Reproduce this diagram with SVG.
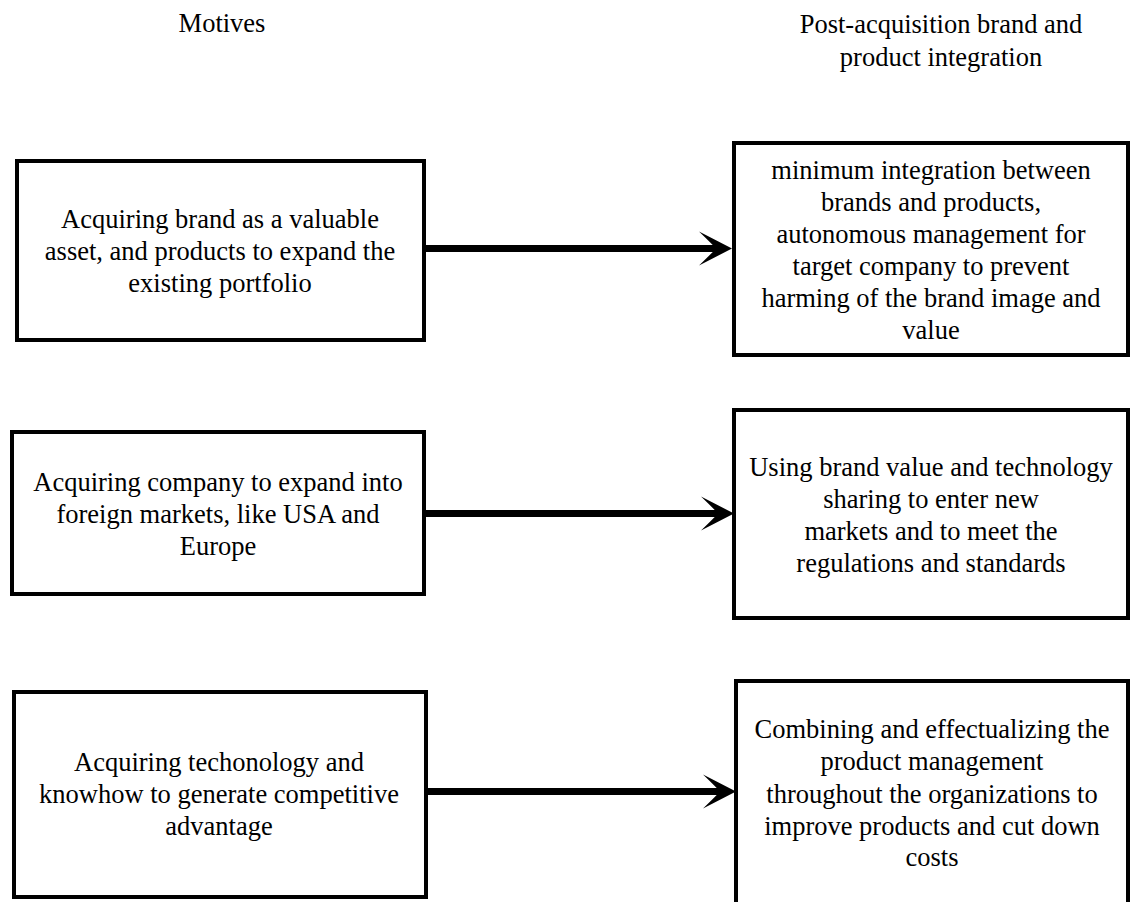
<svg xmlns="http://www.w3.org/2000/svg" width="1131" height="902" viewBox="0 0 1131 902">
  <style>
    .box { fill: #ffffff; stroke: #000000; stroke-width: 4; }
    .label { font-family: "Liberation Serif", "Times New Roman", serif; font-size: 26.5px; fill: #000000; text-anchor: middle; }
    .link { stroke: #000000; stroke-width: 7; fill: none; }
    .head { fill: #000000; }
  </style>
  <rect width="1131" height="902" fill="#ffffff"/>

  <!-- column headings -->
  <g id="heading-motives">
    <text class="label" x="222" y="32">Motives</text>
  </g>
  <g id="heading-integration">
    <text class="label" x="941" y="33">Post-acquisition brand and</text>
    <text class="label" x="941" y="66">product integration</text>
  </g>

  <!-- connectors -->
  <g id="connectors">
    <line class="link" x1="425" y1="248.5" x2="718" y2="248.5"/>
    <path class="head" d="M732,248.5 L699,231.5 Q712,244 716,248.5 Q712,253 699,265.5 Z"/>
    <line class="link" x1="425" y1="513.5" x2="720" y2="513.5"/>
    <path class="head" d="M734,513.5 L701,496.5 Q714,509 718,513.5 Q714,518 701,530.5 Z"/>
    <line class="link" x1="427" y1="791.5" x2="722" y2="791.5"/>
    <path class="head" d="M736,791.5 L703,774.5 Q716,787 720,791.5 Q716,796 703,808.5 Z"/>
  </g>

  <!-- motive nodes -->
  <g id="motive-brand">
    <rect class="box" x="17" y="161" width="407" height="179"/>
    <text class="label" x="220" y="228">Acquiring brand as a valuable</text>
    <text class="label" x="220" y="260">asset, and products to expand the</text>
    <text class="label" x="220" y="292">existing portfolio</text>
  </g>
  <g id="motive-markets">
    <rect class="box" x="12" y="432" width="412" height="162"/>
    <text class="label" x="218" y="491">Acquiring company to expand into</text>
    <text class="label" x="218" y="523">foreign markets, like USA and</text>
    <text class="label" x="218" y="555">Europe</text>
  </g>
  <g id="motive-technology">
    <rect class="box" x="14" y="692" width="412" height="205"/>
    <text class="label" x="219" y="771">Acquiring techonology and</text>
    <text class="label" x="219" y="803">knowhow to generate competitive</text>
    <text class="label" x="219" y="835">advantage</text>
  </g>

  <!-- integration nodes -->
  <g id="integration-minimum">
    <rect class="box" x="734" y="143" width="394" height="212"/>
    <text class="label" x="931" y="179">minimum integration between</text>
    <text class="label" x="931" y="211">brands and products,</text>
    <text class="label" x="931" y="243">autonomous management for</text>
    <text class="label" x="931" y="275">target company to prevent</text>
    <text class="label" x="931" y="307">harming of the brand image and</text>
    <text class="label" x="931" y="339">value</text>
  </g>
  <g id="integration-sharing">
    <rect class="box" x="734" y="410" width="394" height="208"/>
    <text class="label" x="931" y="476">Using brand value and technology</text>
    <text class="label" x="931" y="508">sharing to enter new</text>
    <text class="label" x="931" y="540">markets and to meet the</text>
    <text class="label" x="931" y="572">regulations and standards</text>
  </g>
  <g id="integration-combining">
    <rect class="box" x="736" y="681" width="392" height="240"/>
    <text class="label" x="932" y="738">Combining and effectualizing the</text>
    <text class="label" x="932" y="770">product management</text>
    <text class="label" x="932" y="803">throughout the organizations to</text>
    <text class="label" x="932" y="835">improve products and cut down</text>
    <text class="label" x="932" y="866">costs</text>
  </g>
</svg>
